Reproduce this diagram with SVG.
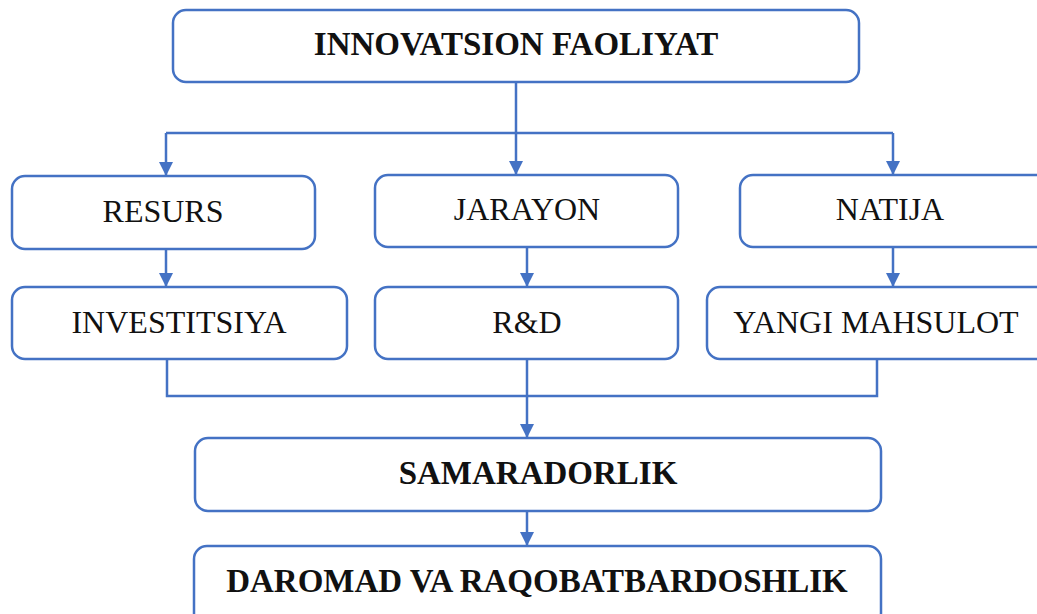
<svg xmlns="http://www.w3.org/2000/svg" width="1037" height="614" viewBox="0 0 1037 614">
<style>
.box{fill:#fff;stroke:#4472C4;stroke-width:2.5}
.ln{fill:none;stroke:#4472C4;stroke-width:2.5}
.t{font-family:"Liberation Serif","Times New Roman",serif;font-size:32px;fill:#111;text-anchor:middle}
.b{font-weight:bold;font-size:33px}
</style>
<defs>
<marker id="a" markerUnits="userSpaceOnUse" markerWidth="16" markerHeight="16" viewBox="0 0 16 16" refX="15" refY="8" orient="auto">
<path d="M1,1 L15,8 L1,15 Z" fill="#4472C4"/>
</marker>
</defs>
<g id="connectors">
<path class="ln" d="M516,82 V133"/>
<path class="ln" d="M166,133 H893"/>
<path class="ln" d="M166,133 V176" marker-end="url(#a)"/>
<path class="ln" d="M516,133 V175" marker-end="url(#a)"/>
<path class="ln" d="M893,133 V175" marker-end="url(#a)"/>
<path class="ln" d="M166,249 V287" marker-end="url(#a)"/>
<path class="ln" d="M527,247 V287" marker-end="url(#a)"/>
<path class="ln" d="M893,247 V287" marker-end="url(#a)"/>
<path class="ln" d="M167,359 V396 H877 V359"/>
<path class="ln" d="M527,359 V438" marker-end="url(#a)"/>
<path class="ln" d="M527,511 V546" marker-end="url(#a)"/>
</g>
<g id="n-innovatsion"><rect class="box" x="173" y="10" width="686" height="72" rx="13"/><text class="t b" x="516" y="55">INNOVATSION FAOLIYAT</text></g>
<g id="n-resurs"><rect class="box" x="12" y="176" width="303" height="73" rx="13"/><text class="t" x="163" y="222">RESURS</text></g>
<g id="n-jarayon"><rect class="box" x="375" y="175" width="303" height="72" rx="13"/><text class="t" x="527" y="220">JARAYON</text></g>
<g id="n-natija"><rect class="box" x="740" y="175" width="310" height="72" rx="13"/><text class="t" x="890" y="220">NATIJA</text></g>
<g id="n-investitsiya"><rect class="box" x="12" y="287" width="335" height="72" rx="13"/><text class="t" x="179" y="333">INVESTITSIYA</text></g>
<g id="n-rd"><rect class="box" x="375" y="287" width="303" height="72" rx="13"/><text class="t" x="527" y="333">R&amp;D</text></g>
<g id="n-yangi"><rect class="box" x="707" y="287" width="345" height="72" rx="13"/><text class="t" x="876" y="333">YANGI MAHSULOT</text></g>
<g id="n-samaradorlik"><rect class="box" x="195" y="438" width="686" height="73" rx="13"/><text class="t b" x="538" y="484">SAMARADORLIK</text></g>
<g id="n-daromad"><rect class="box" x="194" y="546" width="687" height="80" rx="13"/><text class="t b" x="537" y="592">DAROMAD VA RAQOBATBARDOSHLIK</text></g>
</svg>
